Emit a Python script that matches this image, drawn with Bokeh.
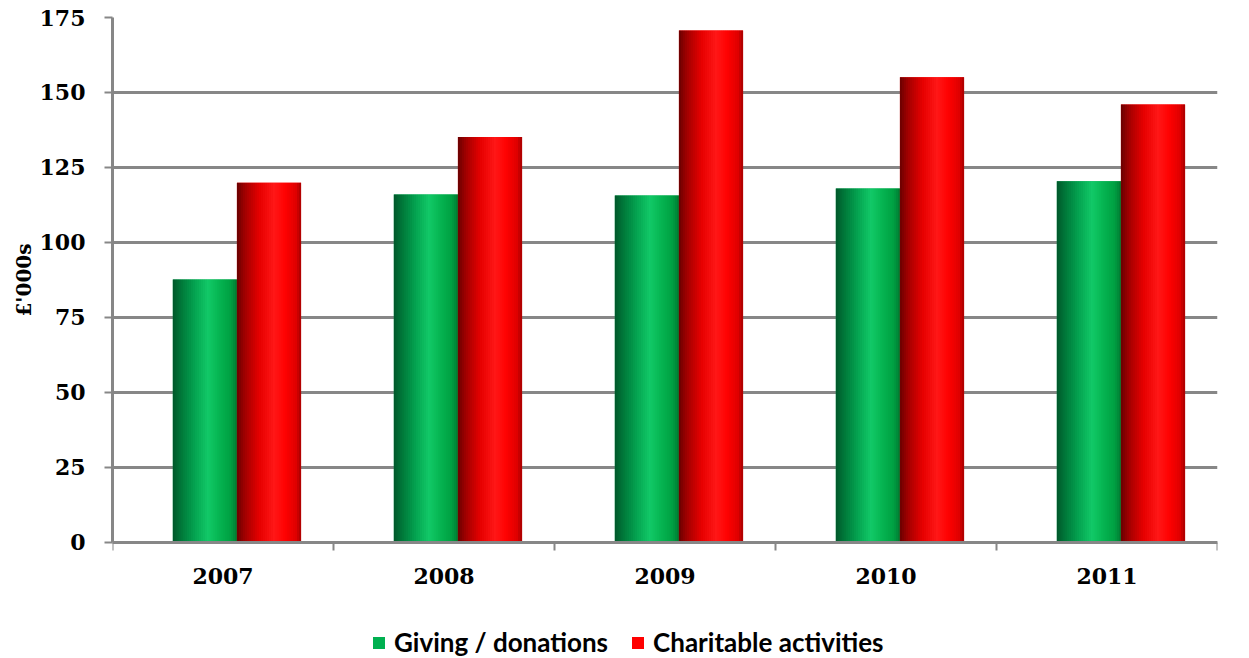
import numpy as np
from bokeh.plotting import figure
from bokeh.models import FixedTicker, Legend, LegendItem, ColumnDataSource, Range1d, Title
from bokeh.embed import file_html
from bokeh.resources import INLINE

# ---- data ----
years = ["2007", "2008", "2009", "2010", "2011"]
giving = [87.7, 116.0, 115.7, 118.0, 120.4]
charitable = [119.9, 135.2, 170.7, 155.1, 146.0]
series_names = ["Giving / donations", "Charitable activities"]
series_colors = ["#00b050", "#ff0000"]
y_ticks = [0, 25, 50, 75, 100, 125, 150, 175]
y_label = "£'000s"

# ---- style / layout ----
GRID = "#878787"
GROUP_START = 0.273   # fraction of category width where the pair starts
BAR_W = 0.29          # fraction of category width per bar
N_STRIPS = 32
TICK_FONT = "DejaVu Serif"
Y_MAX = 175
Y_PAD_BELOW = -38.67  # extra room below zero (inside frame) for x labels + legend

green_stops = [(0.0, "#00552a"), (0.12, "#007538"), (0.35, "#05a552"),
               (0.55, "#12c968"), (0.72, "#06b552"), (0.9, "#00a042"), (1.0, "#007a32")]
red_stops = [(0.0, "#6a0000"), (0.12, "#a00000"), (0.35, "#e60000"),
             (0.58, "#ff1717"), (0.75, "#ff0202"), (0.92, "#e00000"), (1.0, "#a80000")]


def hex2rgb(h):
    h = h.lstrip("#")
    return np.array([int(h[i:i + 2], 16) for i in (0, 2, 4)], dtype=float)


def grad_color(stops, t):
    for (t0, c0), (t1, c1) in zip(stops[:-1], stops[1:]):
        if t0 <= t <= t1:
            f = (t - t0) / (t1 - t0) if t1 > t0 else 0
            c = hex2rgb(c0) * (1 - f) + hex2rgb(c1) * f
            return "#%02x%02x%02x" % tuple(int(round(v)) for v in c)
    return stops[-1][1]


p = figure(width=1249, height=658, output_backend="svg", toolbar_location=None,
           x_range=Range1d(0, len(years)), y_range=Range1d(Y_PAD_BELOW, Y_MAX),
           min_border_left=112, min_border_right=32, min_border_top=17,
           min_border_bottom=0)
p.outline_line_color = None
p.background_fill_color = "white"
p.border_fill_color = "white"


def add_bars(values, series_idx, stops, base_color):
    xs0 = [i + GROUP_START + series_idx * BAR_W for i in range(len(values))]
    # solid base bar (used for the legend), covered by gradient strips
    base = p.quad(left=xs0, right=[x + BAR_W for x in xs0], top=values,
                  bottom=[0] * len(values), fill_color=base_color, line_color=None)
    left, right, top, bottom, colors = [], [], [], [], []
    for x0, v in zip(xs0, values):
        for k in range(N_STRIPS):
            t = (k + 0.5) / N_STRIPS
            left.append(x0 + BAR_W * k / N_STRIPS)
            right.append(x0 + BAR_W * (k + 1) / N_STRIPS + 0.0005)
            top.append(v)
            bottom.append(0)
            colors.append(grad_color(stops, t))
    src = ColumnDataSource(dict(left=left, right=right, top=top, bottom=bottom, color=colors))
    p.quad(left="left", right="right", top="top", bottom="bottom", source=src,
           fill_color="color", line_color=None)
    return base


rg = add_bars(giving, 0, green_stops, series_colors[0])
rr = add_bars(charitable, 1, red_stops, series_colors[1])

legend = Legend(items=[LegendItem(label=series_names[0], renderers=[rg]),
                       LegendItem(label=series_names[1], renderers=[rr])],
                orientation="horizontal", location=(259, 0),
                glyph_width=15, glyph_height=15, label_standoff=8, spacing=22,
                label_text_font="Lato", label_text_font_style="bold",
                label_text_font_size="26px", label_text_color="black",
                border_line_color=None, background_fill_alpha=0,
                margin=0, padding=2)
p.add_layout(legend, "center")

# y axis
p.yaxis.ticker = FixedTicker(ticks=y_ticks)
p.yaxis.bounds = (0, Y_MAX)
p.yaxis.axis_line_color = GRID
p.yaxis.axis_line_width = 3
p.yaxis.major_tick_line_color = GRID
p.yaxis.major_tick_line_width = 2
p.yaxis.major_tick_out = 8
p.yaxis.major_tick_in = 0
p.yaxis.minor_tick_line_color = None
p.yaxis.major_label_text_font = TICK_FONT
p.yaxis.major_label_text_font_style = "bold"
p.yaxis.major_label_text_font_size = "22px"
p.yaxis.major_label_text_color = "black"
p.yaxis.major_label_standoff = 19

# y-axis title, centred on the 0..175 span of the axis
ytitle = Title(text=y_label, align="right", offset=226,
               text_font=TICK_FONT, text_font_style="bold",
               text_font_size="20px", text_color="black", standoff=2)
p.add_layout(ytitle, "left")

# x axis at y = 0: labels at category centres, tick marks at boundaries
centers = [i + 0.5 for i in range(len(years))]
bounds = list(range(len(years) + 1))
p.xaxis.fixed_location = 0
p.xaxis.ticker = FixedTicker(ticks=centers, minor_ticks=bounds)
p.xaxis.major_label_overrides = {c: y for c, y in zip(centers, years)}
p.xaxis.axis_line_color = GRID
p.xaxis.axis_line_width = 3
p.xaxis.major_tick_line_color = None
p.xaxis.minor_tick_line_color = GRID
p.xaxis.minor_tick_line_width = 2
p.xaxis.minor_tick_out = 8
p.xaxis.minor_tick_in = 0
p.xaxis.major_label_text_font = TICK_FONT
p.xaxis.major_label_text_font_style = "bold"
p.xaxis.major_label_text_font_size = "22px"
p.xaxis.major_label_text_color = "black"
p.xaxis.major_label_standoff = 18

p.xgrid.grid_line_color = None
p.ygrid.ticker = FixedTicker(ticks=y_ticks)
p.ygrid.grid_line_color = GRID
p.ygrid.grid_line_width = 3

open("out.html", "w").write(file_html(p, INLINE))
